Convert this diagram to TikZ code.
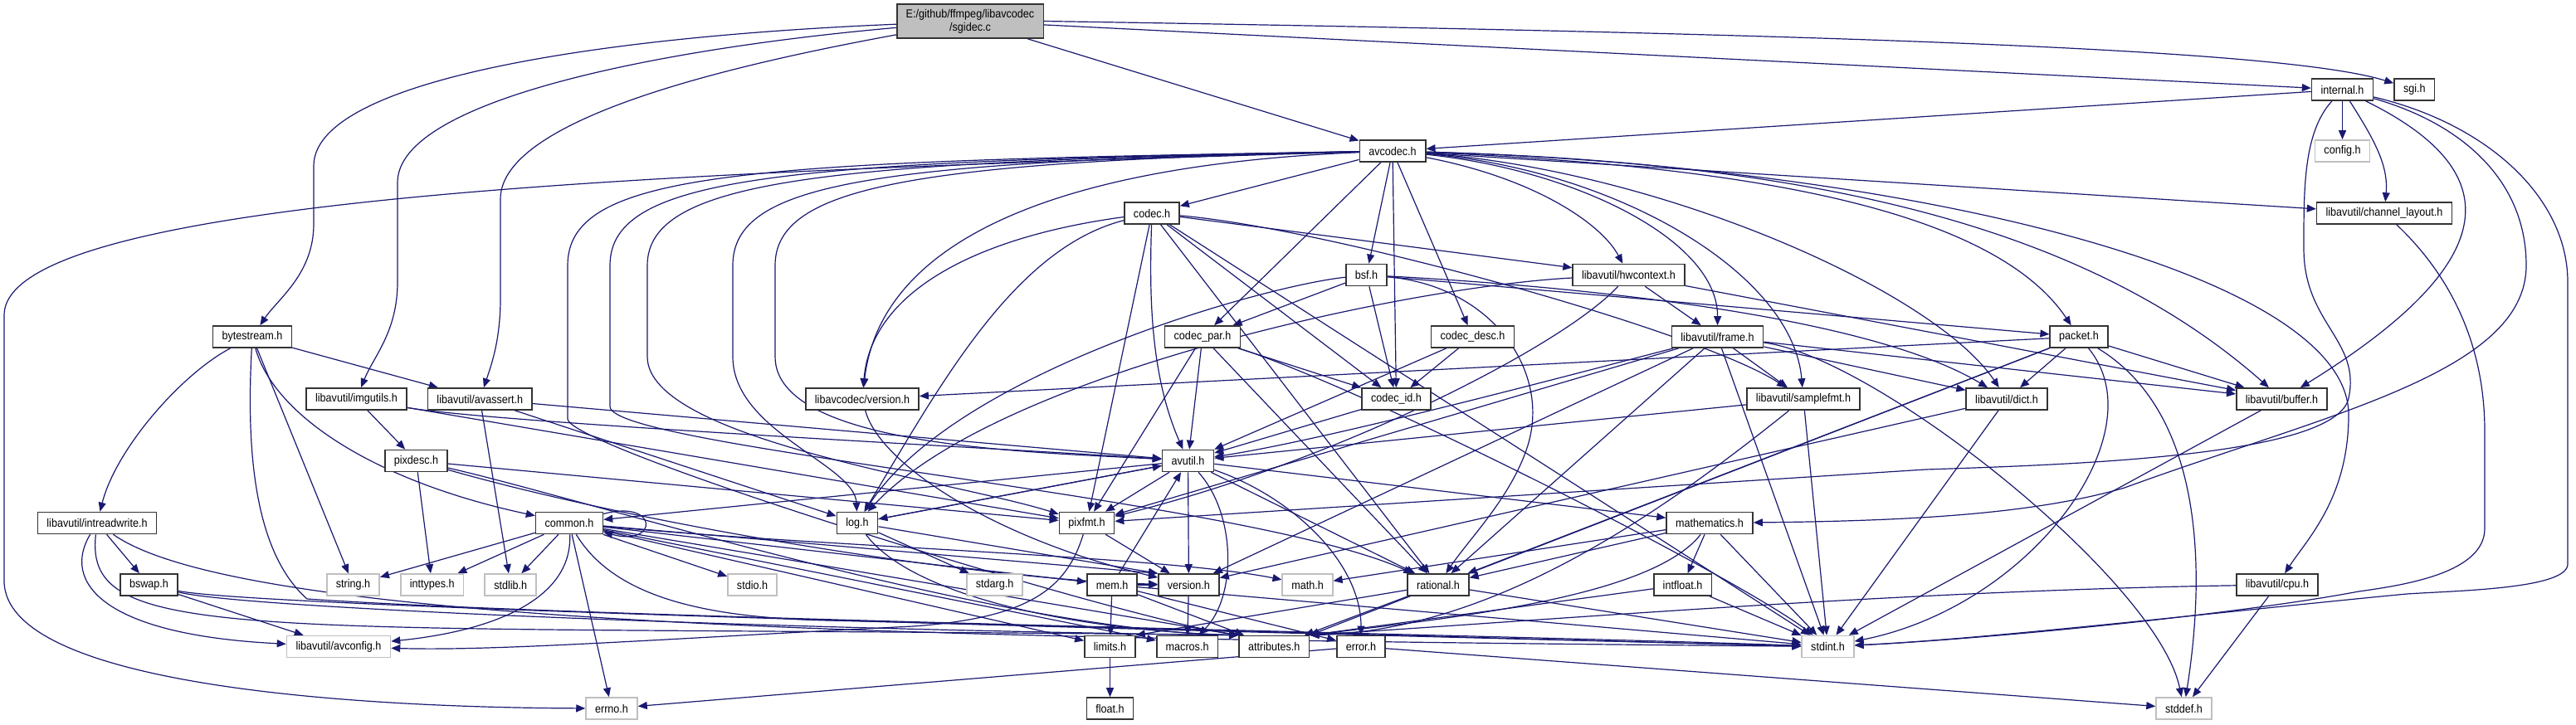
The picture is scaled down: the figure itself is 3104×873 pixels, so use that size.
\documentclass[tikz,border=0pt]{standalone}
\usepackage{fontspec}
\setmainfont{Liberation Sans}[FakeStretch=0.9]
\usetikzlibrary{arrows.meta,positioning,backgrounds}
\definecolor{edgeblue}{HTML}{191970}
\definecolor{boxline}{HTML}{333333}
\definecolor{sysline}{HTML}{BFBFBF}
\definecolor{rootfill}{HTML}{BFBFBF}

\begin{document}
\begin{tikzpicture}[
  x=0.5pt,y=-0.5pt,
  node distance=12pt,
  hdr/.style={draw=boxline,fill=white,line width=0.8pt,inner xsep=5.5pt,inner ysep=0pt,minimum height=13pt,font=\fontsize{7}{8}\selectfont},
  sys/.style={hdr,draw=sysline},
  root/.style={hdr,fill=rootfill,align=center,minimum height=20.5pt},
  inc/.style={-{Triangle[length=5.5pt,width=4.5pt]},edgeblue,line width=0.6pt}
]
  \useasboundingbox (0,0) rectangle (3104,873);
  \node[root] (sgidec) at (1169,25.5) {E:/github/ffmpeg/libavcodec\\/sgidec.c};
  \node[hdr] (internal) at (2822.5,108) {internal.h};
  \node[hdr,right=of internal] (sgi) {sgi.h};
  \node[hdr] (avcodec) at (1678,182) {avcodec.h};
  \node[sys] (config) at (2822.5,182) {config.h};
  \node[hdr] (codec) at (1388,257) {codec.h};
  \node[hdr] (chlayout) at (2873,257) {libavutil/channel\_layout.h};
  \node[hdr] (bsf) at (1646.5,331.5) {bsf.h};
  \node[hdr] (hwcontext) at (1962.5,331.5) {libavutil/hwcontext.h};
  \node[hdr] (bytestream) at (304,406) {bytestream.h};
  \node[hdr] (codecpar) at (1449,406) {codec\_par.h};
  \node[hdr] (codecdesc) at (1774.5,406) {codec\_desc.h};
  \node[hdr] (frame) at (2069.5,406) {libavutil/frame.h};
  \node[hdr] (packet) at (2505,406) {packet.h};
  \node[hdr] (imgutils) at (429.5,481) {libavutil/imgutils.h};
  \node[hdr,right=of imgutils] (avassert) {libavutil/avassert.h};
  \node[hdr] (lavcversion) at (1039,481) {libavcodec/version.h};
  \node[hdr] (codecid) at (1682.5,481) {codec\_id.h};
  \node[hdr] (samplefmt) at (2173,481) {libavutil/samplefmt.h};
  \node[hdr] (dict) at (2418,481) {libavutil/dict.h};
  \node[hdr] (buffer) at (2749.5,481) {libavutil/buffer.h};
  \node[hdr] (pixdesc) at (501.5,555.5) {pixdesc.h};
  \node[hdr] (avutil) at (1431.5,555.5) {avutil.h};
  \node[hdr] (intreadwrite) at (117,630.5) {libavutil/intreadwrite.h};
  \node[hdr] (common) at (686,630.5) {common.h};
  \node[hdr] (log) at (1033,630.5) {log.h};
  \node[hdr] (pixfmt) at (1309.5,630.5) {pixfmt.h};
  \node[hdr] (mathematics) at (2060,630.5) {mathematics.h};
  \node[hdr] (bswap) at (179.5,705) {bswap.h};
  \node[sys] (string) at (425.5,705) {string.h};
  \node[sys,right=of string] (inttypes) {inttypes.h};
  \node[sys,right=of inttypes] (stdlib) {stdlib.h};
  \node[sys] (stdio) at (906.5,705) {stdio.h};
  \node[sys] (stdarg) at (1198.5,705) {stdarg.h};
  \node[hdr] (mem) at (1340,705) {mem.h};
  \node[hdr,right=of mem] (version) {version.h};
  \node[sys] (math) at (1575.5,705) {math.h};
  \node[hdr] (rational) at (1733,705) {rational.h};
  \node[hdr] (intfloat) at (2027.5,705) {intfloat.h};
  \node[hdr] (cpu) at (2744,705) {libavutil/cpu.h};
  \node[sys] (avconfig) at (408,779.5) {libavutil/avconfig.h};
  \node[hdr] (limits) at (1337.5,779.5) {limits.h};
  \node[hdr,right=of limits] (macros) {macros.h};
  \node[hdr,right=of macros] (attributes) {attributes.h};
  \node[hdr] (error) at (1640,779.5) {error.h};
  \node[sys] (stdint) at (2202.5,779.5) {stdint.h};
  \node[sys] (errno) at (737,854) {errno.h};
  \node[hdr] (float) at (1337.5,854) {float.h};
  \node[sys] (stddef) at (2631.5,854) {stddef.h};
  \begin{scope}[on background layer]
  \draw[inc] (sgidec) -- (avcodec); \draw[inc] (sgidec) -- (internal);
  \draw[inc] (sgidec.east) .. controls (2300,42) and (2760,62) .. (sgi);
  \draw[inc] (sgidec) .. controls (700,45) and (378,100) .. (378,200) -- (378,270) .. controls (378,330) and (335,360) .. (bytestream);
  \draw[inc] (sgidec) .. controls (800,58) and (479,120) .. (479,220) -- (479,340) .. controls (479,400) and (450,430) .. (imgutils);
  \draw[inc] (sgidec) .. controls (900,75) and (603,140) .. (603,240) -- (603,360) .. controls (603,410) and (592,440) .. (avassert);
  \draw[inc] (internal) -- (avcodec); \draw[inc] (internal) -- (config);
  \draw[inc] (internal) .. controls (2862,170) and (2878,200) .. (chlayout);
  \draw[inc] (internal) .. controls (2775,160) and (2776,230) .. (2776,300) .. controls (2776,390) and (2845,410) .. (2830,480) .. controls (2815,550) and (2500,560) .. (2320,566) -- (pixfmt);
  \draw[inc] (internal) .. controls (3030,210) and (3010,320) .. (buffer);
  \draw[inc] (internal) .. controls (2970,150) and (3044,220) .. (3044,320) .. controls (3044,450) and (2800,500) .. (2560,588) .. controls (2450,620) and (2300,628) .. (mathematics);
  \draw[inc] (internal) .. controls (3000,150) and (3094,240) .. (3094,340) -- (3094,680) .. controls (3094,710) and (2960,712) .. (2900,716) .. controls (2700,735) and (2400,770) .. (stdint);
  \draw[inc] (chlayout) .. controls (2940,320) and (2994,400) .. (2994,520) -- (2994,637) .. controls (2994,690) and (2900,705) .. (2842,713) .. controls (2700,740) and (2400,770) .. (stdint);
  \draw[inc] (avcodec) -- (codec); \draw[inc] (avcodec) -- (bsf); \draw[inc] (avcodec) -- (codecid);
  \draw[inc] (avcodec) -- (codecdesc); \draw[inc] (avcodec) -- (codecpar); \draw[inc] (avcodec) -- (chlayout);
  \draw[inc] (avcodec) .. controls (1850,215) and (1930,270) .. (hwcontext);
  \draw[inc] (avcodec) .. controls (1900,205) and (2070,290) .. (frame);
  \draw[inc] (avcodec) .. controls (1950,205) and (2160,330) .. (samplefmt);
  \draw[inc] (avcodec) .. controls (2000,205) and (2330,350) .. (dict);
  \draw[inc] (avcodec) .. controls (2100,200) and (2400,250) .. (packet);
  \draw[inc] (avcodec) .. controls (2150,195) and (2500,260) .. (buffer);
  \draw[inc] (avcodec) .. controls (2300,200) and (2830,330) .. (2830,500) .. controls (2830,600) and (2780,650) .. (cpu);
  \draw[inc] (avcodec) .. controls (1250,200) and (1060,300) .. (lavcversion);
  \draw[inc] (avcodec) .. controls (1100,195) and (934,225) .. (934,320) -- (934,430) .. controls (934,540) and (1250,545) .. (avutil);
  \draw[inc] (avcodec) .. controls (1050,195) and (883,220) .. (883,320) -- (883,430) .. controls (883,520) and (1030,560) .. (log);
  \draw[inc] (avcodec) .. controls (1000,195) and (780,215) .. (780,320) -- (780,430) .. controls (780,530) and (1150,580) .. (pixfmt);
  \draw[inc] (avcodec) .. controls (950,195) and (735,210) .. (735,320) -- (735,490) .. controls (735,540) and (1500,600) .. (rational);
  \draw[inc] (avcodec) .. controls (900,195) and (684,205) .. (684,320) -- (684,505) .. controls (684,540) and (1350,745) .. (attributes.north west);
  \draw[inc] (avcodec) .. controls (900,205) and (5,230) .. (5,380) -- (5,700) .. controls (5,830) and (450,853) .. (errno);
  \draw[inc] (codec) -- (hwcontext); \draw[inc] (codec) -- (codecid); \draw[inc] (codec) -- (pixfmt);
  \draw[inc] (codec) -- (rational); \draw[inc] (codec) -- (stdint);
  \draw[inc] (codec) .. controls (1600,275) and (2050,400) .. (samplefmt);
  \draw[inc] (codec) .. controls (1385,350) and (1385,450) .. (avutil);
  \draw[inc] (codec) .. controls (1220,300) and (1130,470) .. (log);
  \draw[inc] (codec) .. controls (1180,285) and (1050,350) .. (lavcversion);
  \draw[inc] (bsf) -- (codecid); \draw[inc] (bsf) -- (codecpar); \draw[inc] (bsf) -- (packet);
  \draw[inc] (bsf) .. controls (1900,345) and (2250,380) .. (dict);
  \draw[inc] (bsf) .. controls (1520,345) and (1150,450) .. (log);
  \draw[inc] (bsf) .. controls (1800,345) and (1870,450) .. (1840,540) .. controls (1820,600) and (1770,650) .. (rational);
  \draw[inc] (codecdesc) -- (avutil); \draw[inc] (codecdesc) -- (codecid);
  \draw[inc] (codecpar) -- (avutil); \draw[inc] (codecpar) -- (rational); \draw[inc] (codecpar) -- (pixfmt); \draw[inc] (codecpar) -- (codecid);
  \draw[inc] (codecpar) .. controls (1650,470) and (2100,700) .. (stdint);
  \draw[inc] (codecid) -- (avutil);
  \draw[inc] (packet) -- (dict); \draw[inc] (packet) -- (buffer); \draw[inc] (packet) -- (lavcversion);
  \draw[inc] (packet) -- (rational); \draw[inc] (packet) -- (attributes.north east);
  \draw[inc] (packet) .. controls (2600,520) and (2450,730) .. (stdint);
  \draw[inc] (packet) .. controls (2660,500) and (2656,700) .. (stddef);
  \draw[inc] (lavcversion) .. controls (1060,560) and (1200,650) .. (version);
  \draw[inc] (bytestream) -- (avassert); \draw[inc] (bytestream) -- (string);
  \draw[inc] (bytestream) .. controls (220,450) and (140,540) .. (intreadwrite);
  \draw[inc] (bytestream) .. controls (330,500) and (450,580) .. (common);
  \draw[inc] (bytestream) .. controls (298,520) and (300,660) .. (370,722) .. controls (700,745) and (1800,765) .. (stdint);
  \draw[inc] (intreadwrite) -- (bswap);
  \draw[inc] (intreadwrite) .. controls (75,700) and (120,765) .. (avconfig);
  \draw[inc] (intreadwrite) .. controls (100,780) and (300,752) .. (attributes.north west);
  \draw[inc] (intreadwrite) .. controls (300,760) and (1200,770) .. (stdint);
  \draw[inc] (bswap) -- (avconfig);
  \draw[inc] (bswap) .. controls (300,735) and (1000,760) .. (attributes.north west);
  \draw[inc] (bswap) .. controls (300,730) and (1200,755) .. (stdint);
  \draw[inc] (imgutils) -- (pixdesc); \draw[inc] (imgutils) -- (pixfmt);
  \draw[inc] (imgutils) .. controls (600,510) and (1200,540) .. (avutil);
  \draw[inc] (pixdesc) -- (inttypes); \draw[inc] (pixdesc) -- (pixfmt);
  \draw[inc] (pixdesc) .. controls (800,640) and (1200,700) .. (version);
  \draw[inc] (pixdesc) .. controls (700,600) and (1200,760) .. (attributes.north west);
  \draw[inc] (avassert) -- (stdlib); \draw[inc] (avassert) -- (avutil); \draw[inc] (avassert) -- (log);
  \draw[inc] (avutil) -- (common); \draw[inc] (avutil) -- (log); \draw[inc] (avutil) -- (pixfmt);
  \draw[inc] (avutil) -- (version); \draw[inc] (avutil) -- (rational); \draw[inc] (avutil) -- (mathematics);
  \draw[inc] (avutil) .. controls (1490,620) and (1490,720) .. (macros);
  \draw[inc] (avutil) .. controls (1560,600) and (1640,680) .. (error);
  \draw[inc] (common) -- (string); \draw[inc] (common) -- (inttypes); \draw[inc] (common) -- (stdlib);
  \draw[inc] (common) -- (stdio); \draw[inc] (common) -- (errno); \draw[inc] (common) -- (mem);
  \draw[inc] (common) -- (version.north west); \draw[inc] (common) -- (limits); \draw[inc] (common) -- (macros);
  \draw[inc] (common) -- (attributes.north west);
  \draw[inc] (common) .. controls (1000,660) and (1400,670) .. (math);
  \draw[inc] (common) .. controls (690,720) and (600,760) .. (avconfig);
  \draw[inc] (common) .. controls (740,720) and (850,745) .. (1000,748) .. controls (1500,760) and (2000,775) .. (stdint);
  \draw[inc] (common) to[loop right] (common);
  \draw[inc] (error) -- (errno); \draw[inc] (error) -- (stddef);
  \draw[inc] (rational) -- (stdint); \draw[inc] (rational) -- (limits.north east); \draw[inc] (rational) -- (attributes);
  \draw[inc] (version) -- (macros);
  \draw[inc] (mem) -- (limits); \draw[inc] (mem) -- (version); \draw[inc] (mem) -- (avutil);
  \draw[inc] (mem) -- (attributes); \draw[inc] (mem) -- (error); \draw[inc] (mem) -- (stdint);
  \draw[inc] (log) -- (stdarg); \draw[inc] (log) -- (avutil); \draw[inc] (log) -- (version.north west);
  \draw[inc] (log) .. controls (1100,720) and (1300,760) .. (attributes.north west);
  \draw[inc] (mathematics) -- (intfloat); \draw[inc] (mathematics) -- (stdint); \draw[inc] (mathematics) -- (rational); \draw[inc] (mathematics) -- (math);
  \draw[inc] (mathematics) .. controls (1990,720) and (1750,745) .. (attributes.north east);
  \draw[inc] (intfloat) -- (stdint); \draw[inc] (intfloat) -- (attributes.north east);
  \draw[inc] (pixfmt) -- (version);
  \draw[inc] (pixfmt) .. controls (1285,710) and (1240,745) .. (1100,755) .. controls (800,770) and (600,785) .. (avconfig);
  \draw[inc] (frame) -- (samplefmt); \draw[inc] (frame) -- (dict); \draw[inc] (frame) -- (buffer);
  \draw[inc] (frame) -- (pixfmt); \draw[inc] (frame) -- (version); \draw[inc] (frame) -- (rational); \draw[inc] (frame) -- (stdint);
  \draw[inc] (frame) .. controls (1900,450) and (1600,530) .. (avutil);
  \draw[inc] (frame) .. controls (2260,430) and (2600,700) .. (stddef);
  \draw[inc] (samplefmt) -- (stdint); \draw[inc] (samplefmt) -- (avutil);
  \draw[inc] (samplefmt) .. controls (2000,620) and (1800,760) .. (attributes.north east);
  \draw[inc] (dict) -- (stdint); \draw[inc] (dict) -- (version);
  \draw[inc] (buffer) -- (stdint);
  \draw[inc] (hwcontext) -- (frame); \draw[inc] (hwcontext) -- (buffer);
  \draw[inc] (hwcontext) .. controls (1700,345) and (1200,450) .. (log);
  \draw[inc] (hwcontext) .. controls (1880,420) and (1600,560) .. (pixfmt);
  \draw[inc] (cpu) -- (stddef);
  \draw[inc] (cpu) .. controls (2300,712) and (1900,745) .. (attributes.north east);
  \draw[inc] (limits) -- (float);
  \end{scope}
\end{tikzpicture}
\end{document}
